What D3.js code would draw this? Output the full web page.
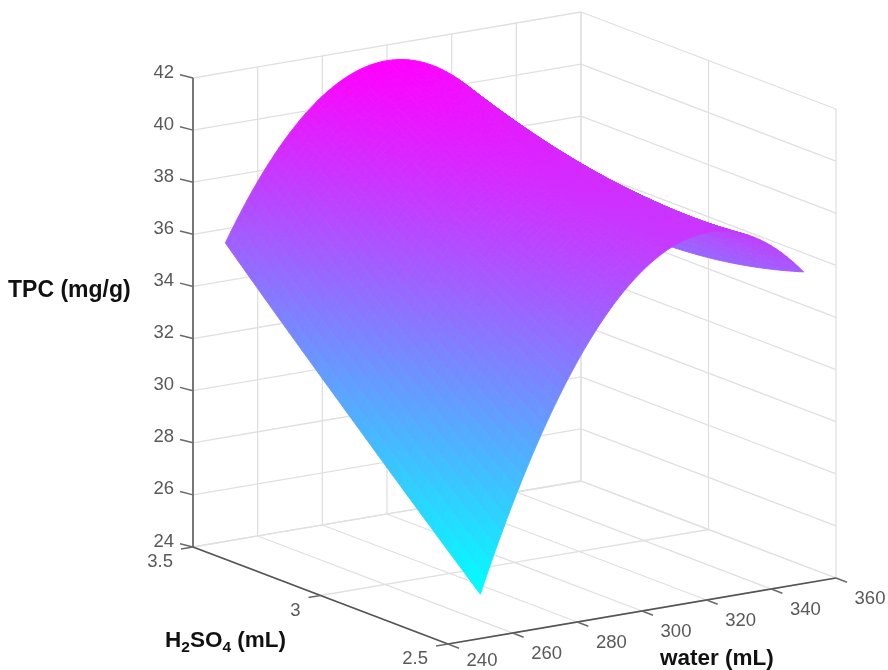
<!DOCTYPE html>
<html><head><meta charset="utf-8">
<script src="https://cdn.jsdelivr.net/npm/d3@7"></script>
<style>html,body{margin:0;background:#fff}svg{display:block;filter:blur(.5px)}text{font-family:"Liberation Sans",Arial,sans-serif}</style>
</head><body><svg id="c" width="888" height="670"></svg>
<script>
const waterTicks=[240,260,280,300,320,340,360];
const acidTicks=[2.5,3,3.5];
const acidTickLabels=["2.5","3","3.5"];
const tpcTicks=[24,26,28,30,32,34,36,38,40,42];
const surfaceWater=[250,266.67,283.33,300,316.67,333.33,350];
const surfaceAcid=[2.5,2.667,2.833,3,3.167,3.333,3.5];
// TPC rows, one per surfaceAcid value
const tpcRow0=[25.70,30.86,34.64,37.04,38.06,37.70,35.96];
const tpcRow1=[27.28,32.07,35.50,37.56,38.24,37.55,35.49];
const tpcRow2=[28.88,33.34,36.43,38.16,38.53,37.54,35.17];
const tpcRow3=[30.50,34.64,37.42,38.85,38.93,37.64,35.00];
const tpcRow4=[32.13,35.98,38.47,39.61,39.42,37.88,34.98];
const tpcRow5=[33.78,37.35,39.58,40.46,40.03,38.24,35.11];
const tpcRow6=[35.46,38.77,40.75,41.40,40.73,38.73,35.40];
const tpc=[tpcRow0,tpcRow1,tpcRow2,tpcRow3,tpcRow4,tpcRow5,tpcRow6];

const svg=d3.select("#c");
const tw=d3.scaleLinear().domain([240,360]).range([0,1]);
const ta=d3.scaleLinear().domain([2.5,3.5]).range([0,1]);
const ty=d3.scaleLinear().domain([24,42]).range([0,-469]);
const O=[448,644],W=[388,-66],A=[-255,-97];
const P=(w,a,z)=>{const t=tw(w),s=ta(a);return [O[0]+t*W[0]+s*A[0],O[1]+t*W[1]+s*A[1]+ty(z)];};
const seg=(g,p,q,col,sw)=>g.append("line").attr("x1",p[0]).attr("y1",p[1]).attr("x2",q[0]).attr("y2",q[1]).attr("stroke",col).attr("stroke-width",sw);

const grid=svg.append("g");
const gc="#e0e0e0",wMin=240,wMax=360,aMin=2.5,aMax=3.5,zMin=24,zMax=42;
tpcTicks.forEach(z=>{
  seg(grid,P(wMin,aMax,z),P(wMax,aMax,z),gc,1.3);
  seg(grid,P(wMax,aMax,z),P(wMax,aMin,z),gc,1.3);
});
waterTicks.forEach(w=>{
  seg(grid,P(w,aMax,zMin),P(w,aMax,zMax),gc,1.3);
  seg(grid,P(w,aMax,zMin),P(w,aMin,zMin),gc,1.3);
});
acidTicks.forEach(a=>{
  seg(grid,P(wMax,a,zMin),P(wMax,a,zMax),gc,1.3);
  seg(grid,P(wMin,a,zMin),P(wMax,a,zMin),gc,1.3);
});

// smooth sampling between read values (shaded surface)
function cr(arr,x){
  const n=arr.length-1,i=Math.min(n-1,Math.floor(x)),f=x-i;
  const p1=arr[i],p2=arr[i+1];
  const p0=i>0?arr[i-1]:3*p1-3*p2+arr[i+2],p3=i<n-1?arr[i+2]:3*p2-3*p1+arr[i-1];
  return .5*(2*p1+(p2-p0)*f+(2*p0-5*p1+4*p2-p3)*f*f+(3*p1-p0-3*p2+p3)*f*f*f);
}
const fU=d3.scaleLinear().domain(d3.extent(surfaceWater)).range([0,surfaceWater.length-1]);
const fV=d3.scaleLinear().domain(d3.extent(surfaceAcid)).range([0,surfaceAcid.length-1]);
const zAt=(w,a)=>{const col=tpc.map(r=>cr(r,fU(w)));return cr(col,fV(a));};
const all=tpc.flat();
const color=d3.scaleLinear().domain(d3.extent(all)).range(["#00ffff","#ff00ff"]).clamp(true);

const N=60;
const ws=d3.range(N+1).map(i=>d3.interpolateNumber(surfaceWater[0],surfaceWater[6])(i/N));
const as=d3.range(N+1).map(i=>d3.interpolateNumber(surfaceAcid[0],surfaceAcid[6])(i/N));
const zs=as.map(a=>ws.map(w=>zAt(w,a)));
const quads=[];
for(let j=N-1;j>=0;j--)for(let i=N-1;i>=0;i--){
  const c=[[i,j],[i+1,j],[i+1,j+1],[i,j+1]];
  quads.push({pts:c.map(([a,b])=>P(ws[a],as[b],zs[b][a])),z:d3.mean(c,([a,b])=>zs[b][a])});
}
svg.append("g").selectAll("polygon").data(quads).join("polygon")
  .attr("points",d=>d.pts.map(p=>p[0].toFixed(2)+","+p[1].toFixed(2)).join(" "))
  .attr("fill",d=>color(d.z)).attr("stroke",d=>color(d.z)).attr("stroke-width",.9).attr("stroke-linejoin","round");

const ax=svg.append("g");
const ac="#6a6a6a";
seg(ax,P(wMin,aMax,zMin),P(wMin,aMax,zMax),"#777",2);
seg(ax,P(wMin,aMax,zMin),P(wMin,aMin,zMin),"#555",1.6);
seg(ax,P(wMin,aMin,zMin),P(wMax,aMin,zMin),"#555",1.6);
const lab=(x,y,t,anchor)=>ax.append("text").attr("x",x).attr("y",y).attr("text-anchor",anchor).attr("font-size",18.5).attr("fill","#595959").text(t);
tpcTicks.forEach(z=>{
  const p=P(wMin,aMax,z);
  seg(ax,p,[p[0]-13,p[1]-3.3],ac,1.5);
  lab(p[0]-19,p[1]-0.5,String(z),"end");
});
acidTicks.forEach((a,i)=>{
  const p=P(wMin,a,zMin);
  seg(ax,p,[p[0]-12,p[1]+2],ac,1.5);
  lab(p[0]-20,p[1]+20,acidTickLabels[i],"end");
});
waterTicks.forEach(w=>{
  const p=P(w,aMin,zMin);
  seg(ax,p,[p[0]+11,p[1]+4.2],ac,1.5);
  lab(p[0]+34,Math.min(p[1]+25.5,666),String(w),"middle");
});
const title=(x,y,fs)=>svg.append("text").attr("x",x).attr("y",y).attr("font-size",fs).attr("font-weight","bold").attr("fill","#111");
title(8,297,23).text("TPC (mg/g)");
title(660,665,22.5).text("water (mL)");
const h=title(165,647,22.5);
h.append("tspan").text("H");
h.append("tspan").attr("font-size",15.5).attr("dy",5).text("2");
h.append("tspan").attr("dy",-5).text("SO");
h.append("tspan").attr("font-size",15.5).attr("dy",5).text("4");
h.append("tspan").attr("dy",-5).text(" (mL)");
</script></body></html>
